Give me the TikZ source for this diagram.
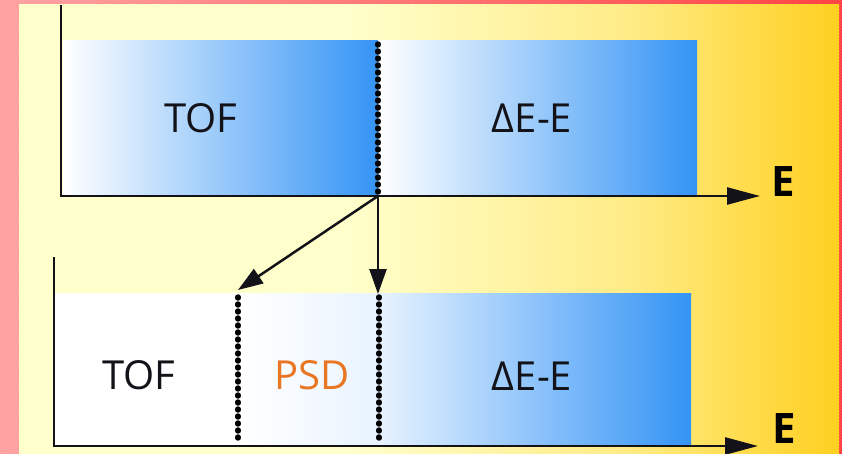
\documentclass[tikz,border=0pt]{standalone}
\usepackage{fontspec}
\setsansfont{Open Sans}
\usetikzlibrary{arrows.meta,patterns}

\definecolor{frameL}{RGB}{255,155,155}
\definecolor{frameR}{RGB}{255,52,52}
\definecolor{paleY}{RGB}{255,255,204}
\definecolor{midY}{RGB}{255,236,135}
\definecolor{deepY}{RGB}{255,208,32}
\definecolor{skyB}{RGB}{52,148,245}
\definecolor{iceB}{RGB}{232,243,255}
\definecolor{psdO}{RGB}{232,118,34}
\definecolor{ink}{RGB}{18,18,24}

% warm panel behind the two plots: pale on the left, gold on the right
\pgfdeclarehorizontalshading{panelglow}{100bp}{%
  color(0bp)=(paleY); color(25bp)=(paleY); color(45bp)=(paleY);
  color(62bp)=(midY); color(75bp)=(deepY); color(100bp)=(deepY)}

\tikzset{
  axis/.style={draw=ink, line width=2.6pt, line join=miter},
  axisarrow/.style={axis, -{Triangle[length=33pt,width=17pt]}},
  divider/.style={draw=black, line width=5.4pt, line cap=round,
                  dash pattern=on 1pt off 6pt},
  feed/.style={draw=ink, line width=2.5pt, -{Triangle[length=25pt,width=17pt]}},
  lbl/.style={font=\sffamily\fontsize{40}{44}\selectfont, text=ink, inner sep=0pt},
  elabel/.style={font=\sffamily\bfseries\fontsize{42}{46}\selectfont, text=black, inner sep=0pt},
}

\begin{document}
\begin{tikzpicture}[x=1pt, y=-1pt]
\useasboundingbox (0,0) rectangle (842,454);

% frame and panel
\fill[left color=frameL, right color=frameR] (0,0) rectangle (842,454);
\fill[pattern=north west lines, pattern color=white, opacity=0.25] (0,0) rectangle (842,454);
\shade[shading=panelglow] (19,5) rectangle (839,454);

% ---- upper plot ----
\shade[left color=white, right color=skyB] (63,41) rectangle (378,196);
\shade[left color=white, right color=skyB] (378,41) rectangle (697,196);

\coordinate (ytopA) at (61,5);
\coordinate (originA) at (61,196);
\coordinate (xendA) at (760,196);
\draw[axisarrow] (ytopA) -- (originA) -- (xendA);

\coordinate (cutTop) at (378,44);
\coordinate (split) at (378,196);
\draw[divider] (cutTop) -- (split);

\node[lbl] (tofA) at (201,118) {TOF};
\node[lbl] (deA) at (532,118) {ΔE-E};
\node[elabel] (eA) at (783,182) {E};

% ---- lower plot ----
\fill[white] (55,293) rectangle (238,446);
\shade[left color=white, right color=iceB] (238,293) rectangle (378,446);
\shade[left color=iceB, right color=skyB] (378,293) rectangle (691,446);

\coordinate (ytopB) at (54,257);
\coordinate (originB) at (54,446);
\coordinate (xendB) at (758,446);
\draw[axisarrow] (ytopB) -- (originB) -- (xendB);

\coordinate (psdTop) at (238,297);
\coordinate (psdBot) at (238,443);
\coordinate (deTop) at (379,297);
\coordinate (deBot) at (379,443);
\draw[divider] (psdTop) -- (psdBot);
\draw[divider] (deTop) -- (deBot);

\node[lbl] (tofB) at (139,375) {TOF};
\node[lbl, text=psdO] (psd) at (312,375) {PSD};
\node[lbl] (deB) at (532,376) {ΔE-E};
\node[elabel] (eB) at (784,429) {E};

% ---- the split point moving to lower energies ----
\coordinate (tipPSD) at (238,290);
\coordinate (tipDE) at (378,294);
\draw[feed] (split) -- (tipPSD);
\draw[feed] (split) -- (tipDE);
\end{tikzpicture}
\end{document}
